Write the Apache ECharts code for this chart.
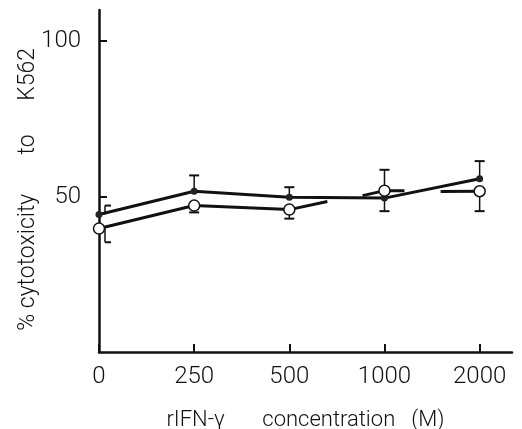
<!DOCTYPE html>
<html><head><meta charset="utf-8">
<script src="https://cdn.jsdelivr.net/npm/echarts@6/dist/echarts.min.js"></script>
<style>html,body{margin:0;padding:0;background:#fff}#c{width:522px;height:429px}</style>
</head><body><div id="c"></div>
<script>
var categories = ['0', '250', '500', '1000', '2000'];
var filledValues = [44.2, 51.7, 49.8, 49.5, 55.7];
var filledErrEnds = [47.1, 56.8, 53.0, 45.3, 61.4];
var openValues = [39.7, 47.1, 45.8, 51.9, 51.7];
var openErrEnds = [35.3, 44.9, 42.9, 58.6, 45.3];
// open-circle line as drawn: continuous to 500, then short stubs
var openLineMain = [[0, 39.7], [1, 47.1], [2, 45.8], [2.4, 48.4]];
var openStub1 = [[2.77, 50.3], [3, 51.9], [3.21, 51.9]];
var openStub2 = [[3.59, 51.6], [4, 51.7]];

var chart = echarts.init(document.getElementById('c'));
var font = 'Roboto';

function errSeries(values, ends) {
  var data = values.map(function (v, i) { return [i, v, ends[i]]; });
  return {
    type: 'custom', z: 1,
    renderItem: function (params, api) {
      var i = api.value(0);
      var p = api.coord([i, api.value(1)]);
      var e = api.coord([i, api.value(2)]);
      var off = i === 0 ? 6 : 0;
      var x = p[0] + off;
      var capL = i === 0 ? x : x - 5;
      var capR = i === 0 ? x + 6 : x + 5;
      return {
        type: 'group',
        children: [
          { type: 'line', shape: { x1: x, y1: p[1], x2: x, y2: e[1] }, style: { stroke: '#111', lineWidth: 1.5 } },
          { type: 'line', shape: { x1: capL, y1: e[1], x2: capR, y2: e[1] }, style: { stroke: '#111', lineWidth: 2 } }
        ]
      };
    },
    data: data
  };
}

var lineStyle = { color: '#111', width: 3 };

chart.setOption({
  animation: false,
  grid: { left: 99, right: 10, top: 10, bottom: 77, containLabel: false, outerBoundsMode: 'none' },
  xAxis: {
    type: 'value', min: 0, max: 4.34, interval: 1,
    name: 'rIFN-\u03b3       concentration   (M)', nameLocation: 'middle', nameGap: 57, nameMoveOverlap: false,
    nameTextStyle: { fontFamily: font, fontWeight: 300, fontSize: 22, color: '#111' },
    axisLine: { lineStyle: { color: '#111', width: 2.5 } },
    axisTick: { inside: true, length: 8, lineStyle: { color: '#111', width: 2 } },
    axisLabel: { margin: 13, fontFamily: font, fontWeight: 300, fontSize: 24, color: '#111', showMaxLabel: false,
      formatter: function (v) { return categories[Math.round(v)] !== undefined && Math.abs(v - Math.round(v)) < 1e-6 ? categories[Math.round(v)] : ''; } },
    splitLine: { show: false }
  },
  yAxis: {
    type: 'value', min: 0, max: 110, interval: 50,
    name: '% cytotoxicity       to      K562   ', nameLocation: 'middle', nameGap: 59, nameMoveOverlap: false,
    nameTextStyle: { fontFamily: font, fontWeight: 300, fontSize: 23, color: '#111' },
    axisLine: { show: true, lineStyle: { color: '#111', width: 2.5 } },
    axisTick: { show: true, inside: true, length: 8, lineStyle: { color: '#111', width: 2 } },
    axisLabel: { margin: 18, fontFamily: font, fontWeight: 300, fontSize: 24, color: '#111', showMinLabel: false, showMaxLabel: false },
    splitLine: { show: false }
  },
  series: [
    errSeries(filledValues, filledErrEnds),
    errSeries(openValues, openErrEnds),
    { type: 'line', z: 2, data: filledValues.map(function (v, i) { return [i, v]; }),
      symbol: 'circle', symbolSize: 7, itemStyle: { color: '#222' }, lineStyle: lineStyle },
    { type: 'line', z: 2, data: openLineMain, showSymbol: false, symbol: 'none', lineStyle: lineStyle },
    { type: 'line', z: 2, data: openStub1, symbol: 'none', lineStyle: lineStyle },
    { type: 'line', z: 2, data: openStub2, symbol: 'none', lineStyle: lineStyle },
    { type: 'scatter', z: 3, data: openValues.map(function (v, i) { return [i, v]; }),
      symbol: 'circle', symbolSize: 11, itemStyle: { color: '#fff', opacity: 1, borderColor: '#111', borderWidth: 1.5 } }
  ]
});
</script>
</body></html>
